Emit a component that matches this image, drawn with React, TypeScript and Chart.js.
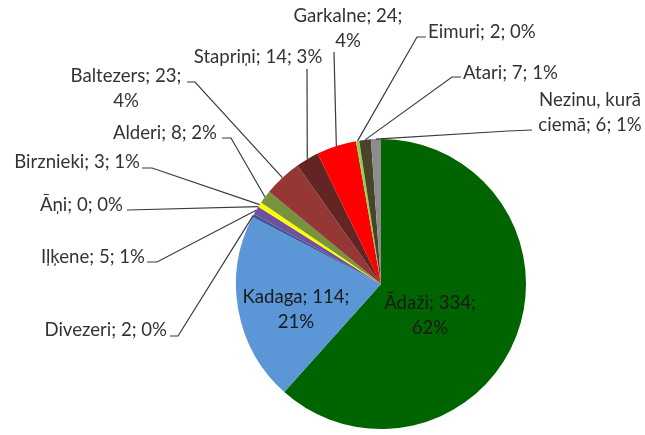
import React, { useEffect, useRef } from "react";
import { Chart, registerables } from "chart.js";

Chart.register(...registerables);

const categories = [
  "Ādaži",
  "Kadaga",
  "Divezeri",
  "Iļķene",
  "Āņi",
  "Birznieki",
  "Alderi",
  "Baltezers",
  "Stapriņi",
  "Garkalne",
  "Eimuri",
  "Atari",
  "Nezinu, kurā ciemā",
];
const values = [334, 114, 2, 5, 0, 3, 8, 23, 14, 24, 2, 7, 6];
const percentLabels = ["62%", "21%", "0%", "1%", "0%", "1%", "2%", "4%", "3%", "4%", "0%", "1%", "1%"];
const colors = [
  "#006400",
  "#5B96D6",
  "#3B5B8C",
  "#6F4FA0",
  "#C0C0C0",
  "#FFFF00",
  "#77933C",
  "#953735",
  "#632523",
  "#FF0000",
  "#92D050",
  "#494429",
  "#8C8C8C",
];

type LabelLayout = {
  x: number;
  y: number;
  align: CanvasTextAlign;
  wrap?: "pct" | "name";
  inside?: boolean;
  knee?: [number, number];
  end?: [number, number];
};

// label placement (text anchors and leader-line knees)
const labelLayout: LabelLayout[] = [
  { x: 430, y: 303, align: "center", wrap: "pct", inside: true },
  { x: 296, y: 297, align: "center", wrap: "pct", inside: true },
  { x: 167, y: 330, align: "right", knee: [178, 336], end: [170, 336] },
  { x: 145, y: 257, align: "right", knee: [157, 262], end: [147, 262] },
  { x: 123, y: 205, align: "right", knee: [127, 210], end: [127, 210] },
  { x: 140, y: 162, align: "right", knee: [152, 168], end: [142, 168] },
  { x: 217, y: 133, align: "right", knee: [231, 138], end: [222, 138] },
  { x: 126, y: 76, align: "center", wrap: "pct", knee: [195, 82], end: [187, 82] },
  { x: 258, y: 57, align: "center", knee: [307, 69], end: [307, 69] },
  { x: 348, y: 16, align: "center", wrap: "pct", knee: [334, 52], end: [334, 52] },
  { x: 428, y: 32, align: "left", knee: [417, 37], end: [426, 37] },
  { x: 463, y: 73, align: "left", knee: [452, 77], end: [461, 77] },
  { x: 590, y: 100, align: "center", wrap: "name", knee: [508, 131], end: [532, 130] },
];

const FONT = '18.6px Lato, "Open Sans", sans-serif';
const LINE_H = 25;

function labelLines(i: number): string[] {
  const name = categories[i];
  const v = values[i];
  const p = percentLabels[i];
  const wrap = labelLayout[i].wrap;
  if (wrap === "pct") return [`${name}; ${v};`, p];
  if (wrap === "name") {
    const k = name.lastIndexOf(" ");
    return [name.slice(0, k), `${name.slice(k + 1)}; ${v}; ${p}`];
  }
  return [`${name}; ${v}; ${p}`];
}

const labelPlugin = {
  id: "pieLabels",
  afterDatasetsDraw(chart: any) {
    const ctx = chart.ctx as CanvasRenderingContext2D;
    const meta = chart.getDatasetMeta(0);
    ctx.save();
    meta.data.forEach((arc: any, i: number) => {
      const lay = labelLayout[i];
      const { x, y, startAngle, endAngle, outerRadius } = arc.getProps(
        ["x", "y", "startAngle", "endAngle", "outerRadius"],
        true
      );
      const mid = (startAngle + endAngle) / 2;
      if (!lay.inside && lay.knee && lay.end) {
        const px = x + Math.cos(mid) * outerRadius;
        const py = y + Math.sin(mid) * outerRadius;
        ctx.beginPath();
        ctx.strokeStyle = "#3a3a3a";
        ctx.lineWidth = 1.2;
        ctx.moveTo(px, py);
        ctx.lineTo(lay.knee[0], lay.knee[1]);
        ctx.lineTo(lay.end[0], lay.end[1]);
        ctx.stroke();
      }
      ctx.font = FONT;
      ctx.fillStyle = lay.inside ? "#1a1a1a" : "#333333";
      ctx.textAlign = lay.align;
      ctx.textBaseline = "middle";
      labelLines(i).forEach((line, j) => {
        ctx.fillText(line, lay.x, lay.y + j * LINE_H);
      });
    });
    ctx.restore();
  },
};

export default function App() {
  const ref = useRef<HTMLCanvasElement | null>(null);
  useEffect(() => {
    if (!ref.current) return;
    const chart = new Chart(ref.current, {
      type: "pie",
      data: {
        labels: categories,
        datasets: [
          {
            data: values,
            backgroundColor: colors,
            borderWidth: 0,
          },
        ],
      },
      options: {
        responsive: false,
        animation: false,
        layout: { padding: { left: 236, right: 119, top: 139, bottom: 6 } },
        plugins: {
          legend: { display: false },
          tooltip: { enabled: false },
        },
      },
      plugins: [labelPlugin],
    });
    return () => chart.destroy();
  }, []);
  return (
    <div style={{ position: "fixed", left: 0, top: 0, width: 645, height: 435, background: "#fff" }}>
      <canvas ref={ref} width={645} height={435} />
    </div>
  );
}
